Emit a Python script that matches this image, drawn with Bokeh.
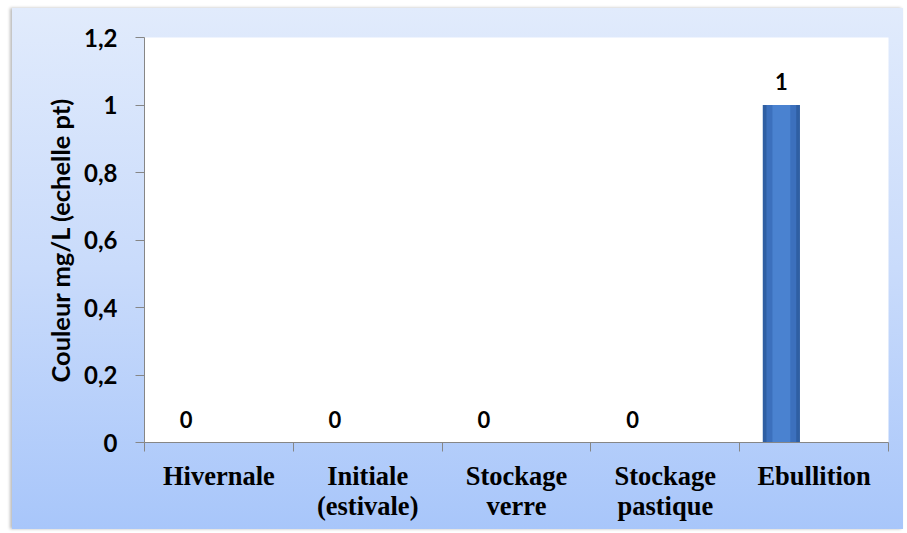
from bokeh.plotting import figure
from bokeh.models import Range1d, FixedTicker, ColumnDataSource
from bokeh.transform import dodge
from bokeh.core.properties import value
from bokeh.embed import file_html
from bokeh.resources import INLINE

categories = ["Hivernale", "Initiale\n(estivale)", "Stockage\nverre", "Stockage\npastique", "Ebullition"]
values = [0, 0, 0, 0, 1]
value_labels = ["0", "0", "0", "0", "1"]
y_ticks = [0, 0.2, 0.4, 0.6, 0.8, 1.0, 1.2]
y_tick_labels = ["0", "0,2", "0,4", "0,6", "0,8", "1", "1,2"]
y_title = "Couleur mg/L (echelle pt)"

n = len(categories)
pos = [i + 0.5 for i in range(n)]
src = ColumnDataSource(dict(x=pos, y=values, lab=value_labels))

p = figure(width=891, height=521, x_range=Range1d(0, n), y_range=Range1d(0, 1.2),
           output_backend="svg", toolbar_location=None,
           min_border_left=132, min_border_right=15, min_border_top=29, min_border_bottom=87)
p.margin = (8, 0, 0, 12)
p.styles = {"background": "linear-gradient(to bottom, #e1ebfc 0%, #c9dbfb 50%, #a8c6fa 100%)",
            "box-shadow": "-2px 0px 3px #bbbbbb"}
p.border_fill_color = None
p.background_fill_color = "white"
p.outline_line_color = None
p.xgrid.grid_line_color = None
p.ygrid.grid_line_color = None

# bar with simple shading layers
off = -0.22
p.vbar(x=dodge("x", off, range=p.x_range), top="y", bottom=0, width=0.25, source=src,
       fill_color="#2f5fa3", line_color=None)
p.vbar(x=dodge("x", off, range=p.x_range), top="y", bottom=0, width=0.2, source=src,
       fill_color="#3c70bd", line_color=None)
p.vbar(x=dodge("x", off, range=p.x_range), top="y", bottom=0, width=0.12, source=src,
       fill_color="#4a82d0", line_color=None)

p.text(x=dodge("x", off, range=p.x_range), y="y", text="lab", source=src,
       text_align="center", text_baseline="bottom", y_offset=-15,
       text_font=value("Lato"), text_font_style="bold", text_font_size="22px",
       text_color="black")

# y axis
ya = p.yaxis[0]
ya.ticker = FixedTicker(ticks=y_ticks)
ya.major_label_overrides = {t: l for t, l in zip(y_ticks, y_tick_labels)}
ya.minor_tick_line_color = None
ya.major_tick_in = 0
ya.major_tick_out = 9
ya.major_tick_line_color = "#868686"
ya.axis_line_color = "#868686"
ya.major_label_text_font = "Lato"
ya.major_label_text_font_style = "bold"
ya.major_label_text_font_size = "24px"
ya.major_label_text_color = "black"
ya.major_label_standoff = 18
ya.axis_label = y_title
ya.axis_label_text_font = "Lato"
ya.axis_label_text_font_style = "bold"
ya.axis_label_text_font_size = "25.5px"
ya.axis_label_text_color = "black"
ya.axis_label_standoff = 6

# x axis
xa = p.xaxis[0]
xa.ticker = FixedTicker(ticks=pos, minor_ticks=list(range(n + 1)))
xa.major_label_overrides = {t: c for t, c in zip(pos, categories)}
xa.major_tick_line_color = None
xa.minor_tick_line_color = "#868686"
xa.minor_tick_in = 0
xa.minor_tick_out = 9
xa.axis_line_color = "#868686"
xa.major_label_text_font = "Liberation Serif"
xa.major_label_text_font_style = "bold"
xa.major_label_text_font_size = "26.5px"
xa.major_label_text_color = "black"
xa.major_label_text_line_height = 1.02
xa.major_label_standoff = 9

open("out.html", "w").write(file_html(p, INLINE))
